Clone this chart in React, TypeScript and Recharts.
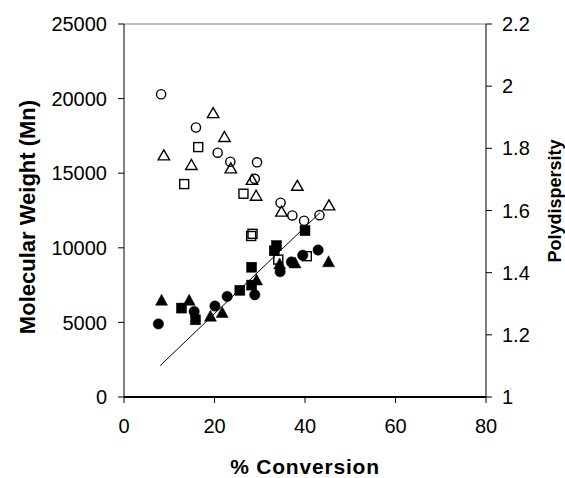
import React from 'react';
import { ScatterChart, Scatter, XAxis, YAxis, ReferenceLine } from 'recharts';

// Mn (left axis), filled markers
const mnCircles = [
  { x: 7.6, y: 4900 }, { x: 15.5, y: 5730 }, { x: 20.1, y: 6100 }, { x: 22.8, y: 6740 },
  { x: 28.9, y: 6850 }, { x: 34.5, y: 8400 }, { x: 37.0, y: 9050 }, { x: 39.5, y: 9500 },
  { x: 42.9, y: 9850 },
];
const mnSquares = [
  { x: 12.7, y: 5960 }, { x: 15.8, y: 5175 }, { x: 25.6, y: 7150 }, { x: 28.2, y: 7500 },
  { x: 28.2, y: 8700 }, { x: 33.2, y: 9800 }, { x: 33.7, y: 10150 }, { x: 40.0, y: 11150 },
];
const mnTriangles = [
  { x: 8.3, y: 6520 }, { x: 14.4, y: 6520 }, { x: 19.1, y: 5450 }, { x: 21.7, y: 5700 },
  { x: 29.3, y: 7880 }, { x: 34.4, y: 8950 }, { x: 37.8, y: 9020 }, { x: 45.2, y: 9100 },
];

// polydispersity (right axis), open markers
const pdCircles = [
  { x: 8.2, y: 1.974 }, { x: 15.9, y: 1.867 }, { x: 20.7, y: 1.786 }, { x: 23.5, y: 1.757 },
  { x: 29.4, y: 1.755 }, { x: 28.9, y: 1.702 }, { x: 34.6, y: 1.625 }, { x: 37.2, y: 1.584 },
  { x: 39.8, y: 1.567 }, { x: 43.2, y: 1.585 },
];
const pdTriangles = [
  { x: 8.8, y: 1.779 }, { x: 14.9, y: 1.748 }, { x: 19.7, y: 1.915 }, { x: 22.2, y: 1.838 },
  { x: 23.6, y: 1.737 }, { x: 28.3, y: 1.7 }, { x: 29.2, y: 1.649 }, { x: 34.8, y: 1.598 },
  { x: 38.3, y: 1.681 }, { x: 45.3, y: 1.618 },
];
const pdSquares = [
  { x: 13.3, y: 1.685 }, { x: 16.4, y: 1.804 }, { x: 26.4, y: 1.654 }, { x: 28.1, y: 1.518 },
  { x: 28.4, y: 1.525 }, { x: 34.1, y: 1.442 }, { x: 40.4, y: 1.453 },
];

// theoretical Mn
const theoryLine = [{ x: 8, y: 2100 }, { x: 43.3, y: 12350 }];

const xTicks = [0, 20, 40, 60, 80];
const mnTicks = [0, 5000, 10000, 15000, 20000, 25000];
const pdTicks = [1, 1.2, 1.4, 1.6, 1.8, 2, 2.2];

const FONT = 'Liberation Sans, Arial, sans-serif';

const marker = (kind: string, filled: boolean) => (props: any) => {
  const { cx, cy } = props;
  if (cx == null || cy == null) return <g />;
  const paint = filled
    ? { fill: '#000', stroke: '#000', strokeWidth: 0.5 }
    : { fill: 'none', stroke: '#000', strokeWidth: 1.4 };
  if (kind === 'circle') return <circle cx={cx} cy={cy} r={filled ? 5.2 : 4.6} {...paint} />;
  if (kind === 'square') {
    const s = filled ? 10 : 9;
    return <rect x={cx - s / 2} y={cy - s / 2} width={s} height={s} {...paint} />;
  }
  const w = filled ? 12 : 11.5;
  const h = filled ? 11 : 10;
  return (
    <polygon
      points={`${cx},${cy - h / 2} ${cx + w / 2},${cy + h / 2} ${cx - w / 2},${cy + h / 2}`}
      {...paint}
    />
  );
};

const title = (text: string, x: number, y: number, size: number, angle = 0, spacing = 0) => () => (
  <text
    x={x}
    y={y}
    transform={angle ? `rotate(${angle} ${x} ${y})` : undefined}
    textAnchor="middle"
    dominantBaseline="central"
    fontFamily={FONT}
    fontWeight="bold"
    fontSize={size}
    letterSpacing={spacing}
    fill="#000"
  >
    {text}
  </text>
);

const tickStyle = { fontSize: 20, fill: '#000', fontFamily: FONT };

export default function App() {
  return (
    <div style={{ position: 'absolute', left: 0, top: 0, width: 565, height: 478, background: '#fff' }}>
      <ScatterChart width={565} height={478} margin={{ top: 24, right: 0, bottom: 0, left: 0 }}>
        <XAxis
          type="number"
          dataKey="x"
          domain={[0, 80]}
          ticks={xTicks}
          height={81}
          axisLine={{ stroke: '#000', strokeWidth: 2 }}
          tickLine={{ stroke: '#000' }}
          tickSize={6}
          tickMargin={16}
          tick={tickStyle}
          label={{ content: title('% Conversion', 305, 466, 21, 0, 0.8) }}
        />
        <YAxis
          yAxisId="left"
          type="number"
          dataKey="y"
          domain={[0, 25000]}
          ticks={mnTicks}
          width={124}
          axisLine={{ stroke: '#000' }}
          tickLine={{ stroke: '#000' }}
          tickSize={6}
          tickMargin={11}
          tick={tickStyle}
          label={{ content: title('Molecular Weight (Mn)', 27, 217, 22, -90) }}
        />
        <YAxis
          yAxisId="right"
          orientation="right"
          type="number"
          dataKey="y"
          domain={[1, 2.2]}
          ticks={pdTicks}
          width={79}
          axisLine={{ stroke: '#000' }}
          tickLine={{ stroke: '#000' }}
          tickSize={6}
          tickMargin={10}
          tick={tickStyle}
          label={{ content: title('Polydispersity', 555, 201, 18, -90) }}
        />
        <ReferenceLine yAxisId="left" y={25000} stroke="#808080" />
        <Scatter yAxisId="left" data={theoryLine} line={{ stroke: '#000', strokeWidth: 1 }} shape={() => <g />} isAnimationActive={false} />
        <Scatter yAxisId="right" data={pdSquares} shape={marker('square', false)} isAnimationActive={false} />
        <Scatter yAxisId="right" data={pdTriangles} shape={marker('triangle', false)} isAnimationActive={false} />
        <Scatter yAxisId="right" data={pdCircles} shape={marker('circle', false)} isAnimationActive={false} />
        <Scatter yAxisId="left" data={mnSquares} shape={marker('square', true)} isAnimationActive={false} />
        <Scatter yAxisId="left" data={mnTriangles} shape={marker('triangle', true)} isAnimationActive={false} />
        <Scatter yAxisId="left" data={mnCircles} shape={marker('circle', true)} isAnimationActive={false} />
      </ScatterChart>
    </div>
  );
}
